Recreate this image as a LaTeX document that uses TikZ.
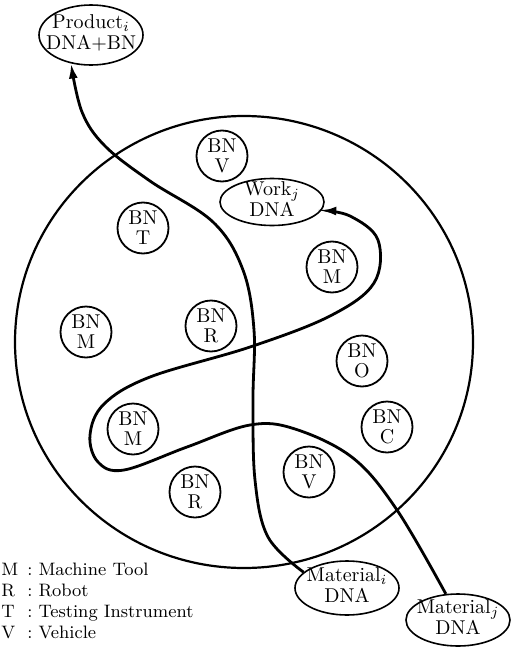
\documentclass[tikz,border=0pt]{standalone}
\usepackage{fontspec}
\usepackage{tikz}
\usetikzlibrary{arrows.meta,shapes.geometric}
\newcommand{\twoline}[2]{\makebox[0pt]{\raisebox{-2.5pt}[0pt][0pt]{\begin{tabular}{@{}c@{}}#1\\#2\end{tabular}}}}
\tikzset{
  bn/.style={circle,draw,line width=0.9pt,minimum size=25.5pt,inner sep=0pt,align=center,font=\fontsize{10}{10}\selectfont},
  dna/.style={ellipse,draw,line width=0.8pt,minimum width=52pt,inner sep=0pt,font=\fontsize{10}{10.5}\selectfont},
  flowline/.style={line width=1.4pt,-{Latex[length=7.5pt,width=4.5pt]}},
  legtext/.style={anchor=base west,inner sep=0pt,font=\fontsize{9}{10}\selectfont}
}
\begin{document}
\begin{tikzpicture}[x=0.5pt,y=-0.5pt]
\useasboundingbox (0,0) rectangle (512,648);
\draw[line width=1.1pt] (244,342) ellipse [x radius=229,y radius=226];
\node[dna,minimum height=30pt] (prod) at (91,35) {\twoline{Product$_i$}{DNA+BN}};
\node[dna,minimum height=23.5pt] (work) at (272,202) {\twoline{Work$_j$}{DNA}};
\node[dna,minimum height=27pt] (mati) at (347,588) {\twoline{Material$_i$}{DNA}};
\node[dna,minimum height=26pt] (matj) at (458,620) {\twoline{Material$_j$}{DNA}};
\foreach \id/\pos/\lt in {v1/{222,156}/V,t/{143,228}/T,m1/{332,267}/M,m2/{86,332}/M,r1/{211,326}/R,o/{362,361}/O,m3/{133,429}/M,c/{387,427}/C,v2/{309,472}/V,r2/{195,492}/R}
  \node[bn] (bn\id) at (\pos) {BN\\\lt};
\draw[flowline] plot[smooth,tension=0.6] coordinates {(mati.160) (268,537) (255,480) (253,400) (254,330) (243,270) (213,222) (150,181) (105,146) (82,112) (prod.-125)};
\draw[flowline] plot[smooth,tension=0.6] coordinates {(matj.115) (397,510) (353,458) (295,429) (250,425) (187,447) (124,470) (98,462) (90,435) (104,404) (150,377) (250,347) (330,316) (374,283) (378,240) (350,216) (work.-10)};
\foreach \n/\a/\b in {0/M/Machine Tool,1/R/Robot,2/T/Testing Instrument,3/V/Vehicle}
  \node[legtext] (leg\a) at (1,575+21*\n) {\makebox[13pt][l]{\a}:\hspace{3pt}\b};
\end{tikzpicture}
\end{document}
